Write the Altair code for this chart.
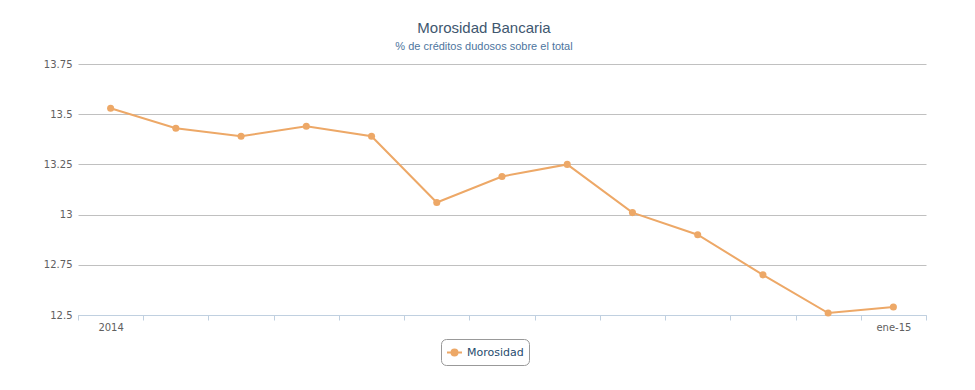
import altair as alt
import pandas as pd

months = ["2014", "feb-14", "mar-14", "abr-14", "may-14", "jun-14", "jul-14",
          "ago-14", "sep-14", "oct-14", "nov-14", "dic-14", "ene-15"]
values = [13.53, 13.43, 13.39, 13.44, 13.39, 13.06, 13.19,
          13.25, 13.01, 12.90, 12.70, 12.51, 12.54]
series = "Morosidad"
y_ticks = [12.5, 12.75, 13.0, 13.25, 13.5, 13.75]

df = pd.DataFrame({"mes": months, "valor": values, "serie": [series] * len(months)})

color = "#EDA867"
label_font = "DejaVu Sans"

x = alt.X("mes:N", sort=months, title=None,
          scale=alt.Scale(type="band", paddingInner=0, paddingOuter=0),
          axis=alt.Axis(labelAngle=0, tickBand="extent", domainColor="#C0D0E0",
                        tickColor="#C0D0E0", tickSize=5, labelColor="#606060",
                        labelFont=label_font, labelFontSize=10, labelPadding=2,
                        grid=False,
                        labelExpr="datum.value == '2014' || datum.value == 'ene-15' ? datum.value : ''"))
y = alt.Y("valor:Q", title=None,
          scale=alt.Scale(domain=[12.5, 13.75], nice=False, zero=False),
          axis=alt.Axis(values=y_ticks, labelExpr="datum.value + ''", domain=False, ticks=False,
                        gridColor="#C0C0C0", gridWidth=1, labelColor="#606060",
                        labelFont=label_font, labelFontSize=10, labelPadding=6))
c = alt.Color("serie:N", title=None,
              scale=alt.Scale(range=[color]),
              legend=alt.Legend(orient="none", legendX=363, legendY=275,
                                symbolType="M-1,0L1,0M-0.4,0a0.4,0.4 0 1,0 0.8,0a0.4,0.4 0 1,0 -0.8,0",
                                symbolSize=225, symbolStrokeWidth=2,
                                symbolFillColor=color, symbolStrokeColor=color,
                                labelFont=label_font, labelFontSize=11, labelColor="#274B6D",
                                strokeColor="#999999", cornerRadius=5, padding=5,
                                fillColor="white"))

base = alt.Chart(df)
line = base.mark_line(strokeWidth=2).encode(x=x, y=y, color=c)
pts = base.mark_point(filled=True, size=50, opacity=1).encode(x=x, y=y, color=c)

chart = (line + pts).properties(
    width=848, height=251,
    title=alt.TitleParams(
        text="Morosidad Bancaria",
        subtitle="% de créditos dudosos sobre el total",
        font="Liberation Sans", fontSize=15, fontWeight="normal", color="#3E576F",
        subtitleFont="Liberation Sans", subtitleFontSize=11, subtitleColor="#4D759E",
        subtitlePadding=5, anchor="middle", dx=-18, offset=7),
    autosize=alt.AutoSizeParams(type="none"),
    padding={"left": 70, "top": 56, "right": 41, "bottom": 60},
).configure_view(stroke=None)

chart.save("out.html", embed_options={"renderer": "svg", "actions": False})
